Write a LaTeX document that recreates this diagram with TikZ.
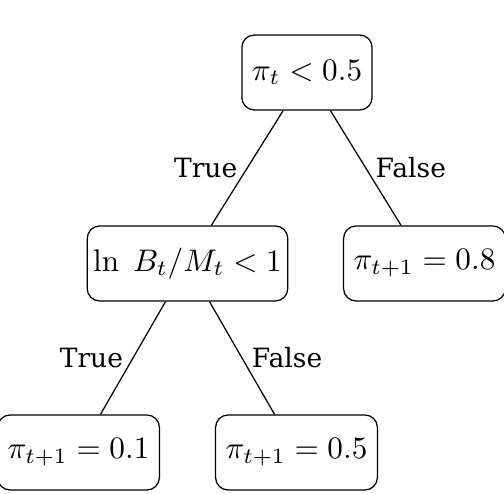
\documentclass[tikz,border=0pt]{standalone}
\usepackage{fontspec}
\newfontfamily\lblfont{DejaVu Serif}
\begin{document}
\begin{tikzpicture}[x=0.3205pt,y=-0.3205pt,
  box/.style={draw,rounded corners=4pt,minimum height=75*0.3205pt,inner xsep=10*0.3205pt,inner ysep=0pt,font=\normalsize},
  lbl/.style={font=\lblfont\fontsize{8.5}{10}\selectfont,inner sep=2pt}]
\useasboundingbox (0,0) rectangle (504,494);
\node[box,minimum width=126*0.3205pt] (root) at (307,72.5) {$\pi_t < 0.5$};
\node[box,minimum width=195*0.3205pt,inner xsep=6*0.3205pt] (mid) at (187.5,263.5) {$\ln\;B_t/M_t < 1$};
\node[box,minimum width=155*0.3205pt] (r) at (424.5,263.5) {$\pi_{t+1} = 0.8$};
\node[box,minimum width=157*0.3205pt] (bl) at (78.5,452.5) {$\pi_{t+1} = 0.1$};
\node[box,minimum width=157*0.3205pt] (bm) at (296.5,452.5) {$\pi_{t+1} = 0.5$};
\draw (root) -- node[lbl,midway,left=1pt] (t1) {True} (mid);
\draw (root) -- node[lbl,midway,right=1pt] (f1) {False} (r);
\draw (mid) -- node[lbl,midway,left=1pt] (t2) {True} (bl);
\draw (mid) -- node[lbl,midway,right=1pt] (f2) {False} (bm);
\end{tikzpicture}
\end{document}
